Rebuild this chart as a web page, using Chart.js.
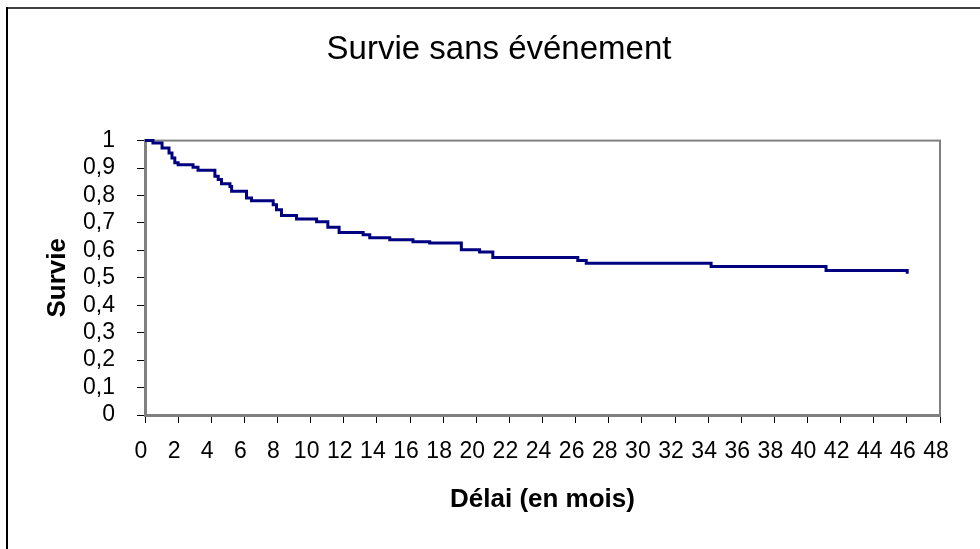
<!DOCTYPE html>
<html>
<head>
<meta charset="utf-8">
<script src="https://cdn.jsdelivr.net/npm/chart.js@4/dist/chart.umd.min.js"></script>
<style>
html,body{margin:0;padding:0;background:#fff;}
#wrap{position:absolute;left:0;top:0;width:980px;height:549px;}
</style>
</head>
<body>
<div id="wrap"><canvas id="c" width="980" height="549"></canvas></div>
<script>
// Kaplan-Meier steps: time (months) and survival after the event at that time
const months = [0, 0.48, 1.03, 1.45, 1.63, 1.8, 2.0, 2.9, 3.2, 4.22, 4.42, 4.62, 5.13, 5.23, 6.13, 6.43, 7.74, 7.94, 8.24, 9.15, 10.36, 11.04, 11.72, 13.17, 13.57, 14.78, 16.18, 17.19, 19.1, 20.2, 21.0, 26.13, 26.64, 34.18, 41.12, 46.02];
const survie = [1.0, 0.991, 0.973, 0.955, 0.937, 0.919, 0.912, 0.903, 0.892, 0.870, 0.858, 0.843, 0.833, 0.815, 0.791, 0.781, 0.766, 0.748, 0.727, 0.714, 0.704, 0.684, 0.665, 0.657, 0.646, 0.639, 0.631, 0.627, 0.602, 0.594, 0.574, 0.563, 0.553, 0.541, 0.527, 0.515];
const xTickLabels = ['0','2','4','6','8','10','12','14','16','18','20','22','24','26','28','30','32','34','36','38','40','42','44','46','48'];
const yTickLabels = ['0','0,1','0,2','0,3','0,4','0,5','0,6','0,7','0,8','0,9','1'];
const chartTitle = 'Survie sans événement';
const xTitle = 'Délai (en mois)';
const yTitle = 'Survie';

const points = months.map((m, i) => ({x: m, y: survie[i]}));
const FONT = "'Liberation Sans', Arial, sans-serif";

const framePlugin = {
  id: 'frame',
  beforeDraw(chart) {
    const ctx = chart.ctx;
    ctx.save();
    ctx.fillStyle = '#fff';
    ctx.fillRect(0, 0, chart.width, chart.height);
    ctx.fillStyle = '#404040';
    ctx.fillRect(6, 7, chart.width - 6, 2);
    ctx.fillStyle = '#000';
    ctx.fillRect(6, 7, 2, chart.height - 7);
    ctx.restore();
  },
  beforeDatasetsDraw(chart) {
    const {ctx, chartArea: a} = chart;
    ctx.save();
    ctx.strokeStyle = '#808080';
    ctx.lineWidth = 2;
    ctx.strokeRect(a.left, a.top, a.right - a.left, a.bottom - a.top);
    ctx.restore();
  }
};

new Chart(document.getElementById('c'), {
  type: 'line',
  data: {
    datasets: [{
      data: points,
      stepped: 'before',
      borderColor: '#000080',
      borderWidth: 3,
      pointRadius: 0,
      fill: false,
      clip: false
    }]
  },
  plugins: [framePlugin],
  options: {
    responsive: false,
    animation: false,
    layout: {padding: {left: 18, right: 0, top: 0, bottom: 0}},
    plugins: {
      legend: {display: false},
      tooltip: {enabled: false},
      title: {
        display: true,
        text: chartTitle,
        color: '#000',
        font: {family: FONT, size: 33, weight: 'normal'},
        padding: {top: 30, bottom: 71}
      }
    },
    scales: {
      x: {
        type: 'linear',
        min: 0, max: 48,
        afterFit: (s) => { s.height = 134; },
        border: {color: '#808080', width: 3},
        grid: {drawOnChartArea: false, drawTicks: true, tickLength: 8, color: '#000', lineWidth: 1},
        ticks: {
          stepSize: 2, autoSkip: false, maxRotation: 0, minRotation: 0,
          padding: 15, labelOffset: -4, color: '#000',
          font: {family: FONT, size: 23},
          callback: (v, i) => xTickLabels[i]
        },
        title: {
          display: true, text: xTitle, color: '#000',
          font: {family: FONT, size: 26, weight: 'bold'},
          padding: {top: 0, bottom: 34}
        }
      },
      y: {
        type: 'linear',
        min: 0, max: 1,
        afterFit: (s) => { s.width = 127; },
        border: {color: '#808080', width: 3},
        grid: {drawOnChartArea: false, drawTicks: true, tickLength: 8, color: '#000', lineWidth: 1},
        ticks: {
          stepSize: 0.1, autoSkip: false, padding: 22, color: '#000',
          font: {family: FONT, size: 23},
          callback: (v, i) => yTickLabels[i]
        },
        title: {
          display: true, text: yTitle, color: '#000',
          font: {family: FONT, size: 26, weight: 'bold'},
          padding: {top: 24, bottom: 0}
        }
      },
      spacer: {
        type: 'linear',
        position: 'right',
        display: true,
        afterFit: (s) => { s.width = 40; },
        grid: {display: false, drawTicks: false},
        border: {display: false},
        ticks: {display: false}
      }
    }
  }
});
</script>
</body>
</html>
